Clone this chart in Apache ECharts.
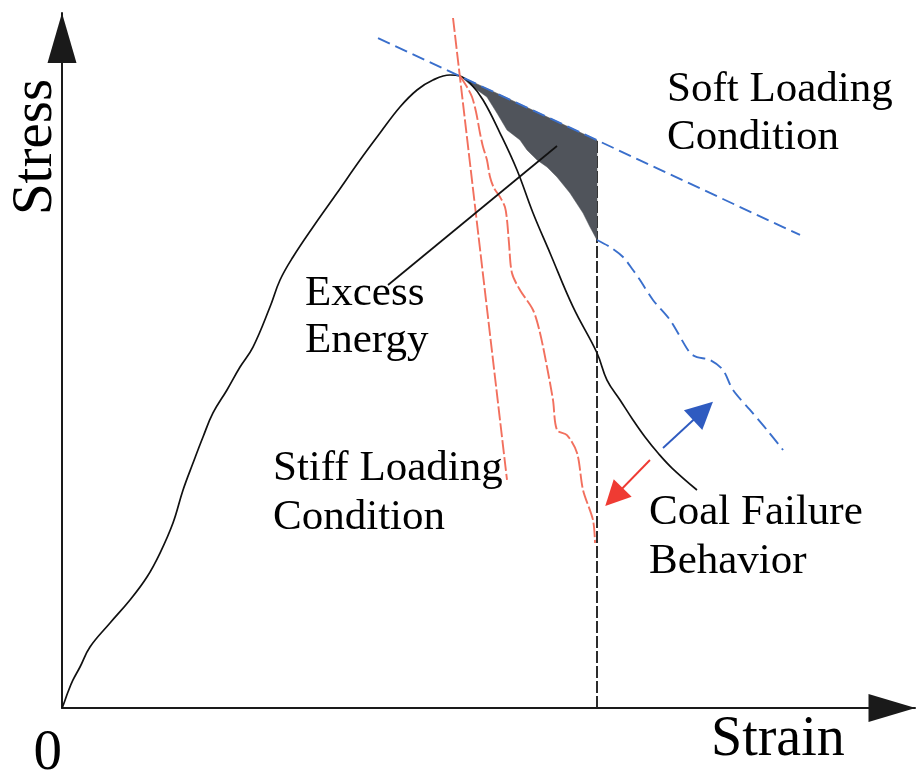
<!DOCTYPE html>
<html><head><meta charset="utf-8">
<script src="https://cdn.jsdelivr.net/npm/echarts@6/dist/echarts.min.js"></script>
<style>html,body{margin:0;padding:0;background:#fff}#c{width:917px;height:775px}</style>
</head><body><div id="c"></div>
<script>
// Coal stress-strain curve (arbitrary units, 0-100)
const coalStrain = [0,0.15,0.70,1.29,2.11,3.28,5.63,7.97,9.96,11.49,13.01,14.19,15.36,16.53,17.70,19.34,20.87,22.39,24.38,25.56,27.08,29.43,32.24,34.94,37.28,39.62,41.62,43.49,45.49,46.66,47.83,49.36,51.35,53.34,55.22,57.21,59.91,62.72,63.89,65.42,66.94,68.35,69.87,71.51,74.44];
const coalStress = [0,0.43,2.30,4.03,5.90,8.78,12.23,15.54,18.85,22.30,26.62,31.37,35.25,38.99,42.45,45.76,49.06,51.94,57.70,61.58,64.89,69.21,74.10,78.85,82.73,86.47,88.92,90.36,91.08,90.94,89.93,87.48,82.73,77.41,71.22,65.47,57.70,51.08,47.19,44.32,41.44,38.99,36.69,34.53,31.37];
// Stiff loading line
const stiffStrain = [45.84,52.17];
const stiffStress = [99.28,32.81];
// Post-peak curve under stiff loading
const stiffPostStrain = [46.66,47.48,48.07,48.54,49.00,49.36,49.82,50.18,50.64,51.35,51.93,52.17,52.40,52.75,53.69,55.22,56.04,56.86,57.56,58.03,59.20,60.38,61.08,62.25,62.49];
const stiffPostStress = [90.94,89.35,87.91,85.76,82.73,80.72,78.85,76.40,74.82,73.53,72.09,70.22,66.91,62.59,60.14,57.27,53.96,49.06,44.32,40.00,39.28,36.69,31.37,27.05,23.74];
// Soft loading line
const softStrain = [37.05,86.52];
const softStress = [96.40,68.06];
// Post-peak curve under soft loading
const softPostStrain = [62.72,64.24,65.77,66.94,67.76,69.28,71.28,73.62,74.44,75.97,77.49,78.66,80.66,82.65,84.53];
const softPostStress = [67.34,66.33,64.89,63.02,61.58,58.71,55.83,51.08,50.50,50.07,48.63,45.76,42.88,40.00,37.12];
// Vertical reference strain
const refStrain = [62.72,62.72];
const refStress = [0,81.7];
// Excess energy region outline
const excessStrain = [46.66,62.72,62.72,61.90,61.08,59.55,58.03,56.86,55.69,54.51,53.69,52.17,50.99,49.82,48.18];
const excessStress = [90.94,81.69,67.34,69.21,71.22,74.10,76.40,77.84,78.85,80.29,81.73,83.17,85.61,87.91,89.35];
// Leader line for "Excess Energy"
const leaderStrain = [58.03,38.22];
const leaderStress = [80.86,60.86];
// Direction arrows
const softArrowStrain = [70.46,75.15];
const softArrowStress = [37.41,42.73];
const stiffArrowStrain = [68.93,64.71];
const stiffArrowStress = [35.68,30.36];
const xTickLabels = ['0'];

const pairs = (xs, ys) => xs.map((x, i) => [x, ys[i]]);
const SERIF = '"Liberation Serif", "Times New Roman", serif';

const chart = echarts.init(document.getElementById('c'), null, {renderer: 'canvas'});
const dashedLine = (name, xs, ys, color, dash, smooth, z) => ({
  name, type: 'line', data: pairs(xs, ys), showSymbol: false, symbol: 'none',
  smooth: smooth, z: z, silent: true,
  lineStyle: {color: color, width: 1.9, type: dash}
});

chart.setOption({
  animation: false,
  backgroundColor: '#ffffff',
  grid: {left: 62, right: 2, top: 13, bottom: 67, containLabel: false, outerBoundsMode: 'none'},
  xAxis: {
    type: 'value', min: 0, max: 100, interval: 100,
    splitLine: {show: false}, axisTick: {show: false},
    axisLine: {lineStyle: {color: '#1a1a1a', width: 2}, symbol: ['none', 'triangle'], symbolSize: [28, 47], symbolOffset: [0, -23]},
    axisLabel: {
      formatter: v => (v === 0 ? xTickLabels[0] : ''),
      fontFamily: SERIF, fontSize: 57, color: '#000', align: 'right', margin: 18
    }
  },
  yAxis: {
    type: 'value', min: 0, max: 100,
    splitLine: {show: false}, axisTick: {show: false}, axisLabel: {show: false},
    axisLine: {lineStyle: {color: '#1a1a1a', width: 2}, symbol: ['none', 'triangle'], symbolSize: [29, 50], symbolOffset: [0, -25]}
  },
  series: [
    dashedLine('ref', refStrain, refStress, '#222', [12, 3], false, 1),
    {
      name: 'excess', type: 'custom', z: 2, silent: true, data: [0],
      renderItem: (params, api) => ({
        type: 'polygon',
        shape: {points: excessStrain.map((x, i) => api.coord([x, excessStress[i]]))},
        style: {fill: '#50545b', stroke: '#50545b', lineWidth: 0.5}
      })
    },
    {name: 'coal', type: 'line', data: pairs(coalStrain, coalStress), showSymbol: false, symbol: 'none',
     smooth: 0.4, z: 3, silent: true, lineStyle: {color: '#111', width: 1.7}},
    dashedLine('stiff', stiffStrain, stiffStress, '#f2705e', [14, 3], false, 3),
    dashedLine('stiffPost', stiffPostStrain, stiffPostStress, '#f2705e', [14, 3], 0.3, 3),
    dashedLine('soft', softStrain, softStress, '#3a6fcc', [13, 6], false, 4),
    dashedLine('softPost', softPostStrain, softPostStress, '#3a6fcc', [13, 6], 0.3, 4),
    {name: 'leader', type: 'line', data: pairs(leaderStrain, leaderStress), showSymbol: false, symbol: 'none',
     z: 5, silent: true, lineStyle: {color: '#111', width: 1.7}},
    {
      name: 'arrows', type: 'lines', coordinateSystem: 'cartesian2d', z: 5, silent: true,
      symbol: ['none', 'triangle'],
      data: [
        {coords: pairs(softArrowStrain, softArrowStress), symbolSize: [16, 27], lineStyle: {color: '#2f5bc0', width: 1.9}},
        {coords: pairs(stiffArrowStrain, stiffArrowStress), symbolSize: [15, 25], lineStyle: {color: '#ef3b33', width: 1.9}}
      ],
      lineStyle: {width: 1.9, opacity: 1}
    }
  ],
  graphic: [
    {type: 'text', x: 36, y: 147, rotation: Math.PI / 2, z: 10,
     style: {text: 'Stress', fontFamily: SERIF, fontSize: 57, fill: '#000', align: 'center', verticalAlign: 'middle'}},
    {type: 'text', x: 711, y: 740, z: 10,
     style: {text: 'Strain', fontFamily: SERIF, fontSize: 56, fill: '#000', align: 'left', verticalAlign: 'middle'}},
    {type: 'text', x: 667, y: 66, z: 10,
     style: {text: 'Soft Loading\nCondition', fontFamily: SERIF, fontSize: 43, lineHeight: 48, fill: '#000', align: 'left', verticalAlign: 'top'}},
    {type: 'text', x: 305, y: 270, z: 10,
     style: {text: 'Excess\nEnergy', fontFamily: SERIF, fontSize: 43, lineHeight: 47, fill: '#000', align: 'left', verticalAlign: 'top'}},
    {type: 'text', x: 273, y: 444, z: 10,
     style: {text: 'Stiff Loading\nCondition', fontFamily: SERIF, fontSize: 43, lineHeight: 49, fill: '#000', align: 'left', verticalAlign: 'top'}},
    {type: 'text', x: 649, y: 488, z: 10,
     style: {text: 'Coal Failure\nBehavior', fontFamily: SERIF, fontSize: 43, lineHeight: 49, fill: '#000', align: 'left', verticalAlign: 'top'}}
  ]
});
</script></body></html>
